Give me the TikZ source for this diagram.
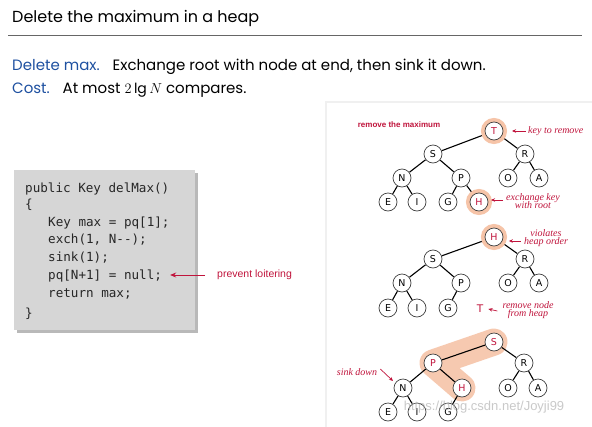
\documentclass[tikz,border=0pt]{standalone}
\usepackage{fontspec}
\setmainfont{Poppins}
\newfontfamily\codefont{DejaVu Sans Mono}
\newfontfamily\nodefont{DejaVu Sans}
\newfontfamily\arialfont{Liberation Sans}
\newfontfamily\serifit{Liberation Serif}
\usetikzlibrary{shadows,arrows.meta}
\pgfdeclarelayer{panel}
\pgfdeclarelayer{band}
\pgfdeclarelayer{edges}
\pgfsetlayers{panel,band,edges,main}
\definecolor{sbblue}{RGB}{30,80,160}
\definecolor{sbred}{RGB}{192,20,60}
\definecolor{halo}{RGB}{246,196,168}
\definecolor{boxgray}{RGB}{214,214,214}
\tikzset{
  hn/.style={circle, draw=black!75, fill=white, line width=0.7pt, minimum size=18pt, inner sep=0pt,
             font=\nodefont\fontsize{9.5}{10}\selectfont},
  hred/.style={hn, text=sbred},
  hhalo/.style={hred, preaction={draw=halo, line width=8pt}},
  edge/.style={line width=1.1pt, black},
  note/.style={font=\serifit\itshape\fontsize{10}{10}\selectfont, text=sbred, align=center, inner sep=0pt},
  redarrow/.style={-{Stealth[length=4pt,width=3.5pt]}, sbred, line width=0.7pt},
  codeline/.style={anchor=base west, inner sep=0pt, font=\codefont\fontsize{12.6}{14}\selectfont, text=black!85},
}
\begin{document}
\begin{tikzpicture}[x=1pt,y=-1pt]
\useasboundingbox (0,0) rectangle (592,426);
% header
\node[anchor=base west, inner sep=0pt, font=\fontsize{16}{19}\selectfont] (title) at (12,22) {Delete the maximum in a heap};
\draw[black!60, line width=0.8pt] (8,35) -- (582,35);
\node[anchor=base west, inner sep=0pt, font=\fontsize{15}{17}\selectfont] (l1) at (12,70)
  {\textcolor{sbblue}{Delete max.}\hspace{0.5em} Exchange root with node at end, then sink it down.};
\node[anchor=base west, inner sep=0pt, font=\fontsize{15}{17}\selectfont] (l2) at (12,93)
  {\textcolor{sbblue}{Cost.}\hspace{0.5em} At most {\fontsize{14}{15}\selectfont$2\lg N$} compares.};
% right panel
\begin{pgfonlayer}{panel}
\fill[black!6] (325,101) rectangle (600,430);
\fill[white] (327,103) rectangle (600,430);
\end{pgfonlayer}
% code box
\node[anchor=north west, fill=boxgray, minimum width=181pt, minimum height=160pt, inner sep=0pt,
      drop shadow={shadow xshift=3pt, shadow yshift=-3pt, opacity=0.55}] (box) at (14,170) {};
\node[codeline] (c1) at (25,192) {public Key delMax()};
\node[codeline] (c2) at (25,208) {\{};
\node[codeline] (c3) at (48,226) {Key max = pq[1];};
\node[codeline] (c4) at (48,243) {exch(1, N{-}{-});};
\node[codeline] (c5) at (48,261) {sink(1);};
\node[codeline] (c6) at (48,279) {pq[N+1] = null;};
\node[codeline] (c7) at (48,297) {return max;};
\node[codeline] (c8) at (25,317) {\}};
\node[anchor=west, inner sep=0pt, text=sbred, font=\arialfont\fontsize{10.5}{11}\selectfont] (pl) at (217,275) {prevent loitering};
\draw[-{Stealth[length=6pt,width=5pt]}, sbred, line width=0.9pt] ([xshift=-12pt]pl.west) -- ([xshift=8pt]c6.east |- pl.west);
% ---------- tree 1
\node[anchor=center, inner sep=0pt, text=sbred, font=\arialfont\bfseries\fontsize{8}{9}\selectfont] (rm) at (399,125) {remove the maximum};
\node[hhalo] (aT) at (494,131) {T};
\node[hn] (aS) at (433,154) {S};
\node[hn] (aR) at (525,154) {R};
\node[hn] (aN) at (402,178) {N};
\node[hn] (aP) at (461,178) {P};
\node[hn] (aO) at (508,178) {O};
\node[hn] (aA) at (539,178) {A};
\node[hn] (aE) at (388,202) {E};
\node[hn] (aI) at (417,202) {I};
\node[hn] (aG) at (448,202) {G};
\node[hhalo] (aH) at (479,202) {H};
\begin{pgfonlayer}{edges}
\draw[edge] (aT) -- (aS); \draw[edge] (aT) -- (aR);
\draw[edge] (aS) -- (aN); \draw[edge] (aS) -- (aP);
\draw[edge] (aR) -- (aO); \draw[edge] (aR) -- (aA);
\draw[edge] (aN) -- (aE); \draw[edge] (aN) -- (aI);
\draw[edge] (aP) -- (aG); \draw[edge] (aP) -- (aH);
\end{pgfonlayer}
\node[note, anchor=west] (k1) at (528,131) {key to remove};
\draw[redarrow] ([xshift=-2pt]k1.west) -- ([xshift=-16pt]k1.west);
\node[note] (k2) at (533,201) {exchange key\\[-1.5pt]with root};
\draw[redarrow] ([xshift=-3pt,yshift=1pt]k2.west) -- ([xshift=-15pt,yshift=1pt]k2.west);
% ---------- tree 2
\begin{scope}[shift={(0,106)}]
\node[hhalo] (bH) at (494,131) {H};
\node[hn] (bS) at (433,153) {S};
\node[hn] (bR) at (525,153) {R};
\node[hn] (bN) at (402,177) {N};
\node[hn] (bP) at (461,177) {P};
\node[hn] (bO) at (508,177) {O};
\node[hn] (bA) at (539,177) {A};
\node[hn] (bE) at (388,202) {E};
\node[hn] (bI) at (417,202) {I};
\node[hn] (bG) at (448,202) {G};
\node[inner sep=0pt, text=sbred, font=\nodefont\fontsize{10.5}{10}\selectfont] (bT) at (480,203) {T};
\node[note] (v1) at (546,132) {violates\\[-1.5pt]heap order};
\node[note] (v2) at (528,204) {remove node\\[-1.5pt]from heap};
\end{scope}
\begin{pgfonlayer}{edges}
\draw[edge] (bH) -- (bS); \draw[edge] (bH) -- (bR);
\draw[edge] (bS) -- (bN); \draw[edge] (bS) -- (bP);
\draw[edge] (bR) -- (bO); \draw[edge] (bR) -- (bA);
\draw[edge] (bN) -- (bE); \draw[edge] (bN) -- (bI);
\draw[edge] (bP) -- (bG);
\end{pgfonlayer}
\draw[redarrow] ([xshift=-3pt,yshift=-3pt]v1.west) -- ([xshift=-15pt,yshift=-3pt]v1.west);
\draw[redarrow] ([xshift=-5pt,yshift=-1pt]v2.west) -- ([xshift=5pt]bT.east);
% ---------- tree 3
\begin{scope}[shift={(0,211)}]
\node[hred] (cS) at (494,131) {S};
\node[hred] (cP) at (433,152) {P};
\node[hn] (cR) at (524,152) {R};
\node[hn] (cN) at (403,177) {N};
\node[hred] (cH) at (462,177) {H};
\node[hn] (cO) at (508,177) {O};
\node[hn] (cA) at (538,177) {A};
\node[hn] (cE) at (388,201) {E};
\node[hn] (cI) at (417,201) {I};
\node[hn] (cG) at (448,201) {G};
\node[note] (sd) at (357,161) {sink down};
\coordinate (sdend) at (393,170);
\end{scope}
\begin{pgfonlayer}{band}
\draw[halo, line width=27pt, line cap=round, line join=round, opacity=0.9] (cS.center) -- (cP.center) -- (cH.center);
\end{pgfonlayer}
\begin{pgfonlayer}{edges}
\draw[edge] (cS) -- (cP); \draw[edge] (cS) -- (cR);
\draw[edge] (cP) -- (cN); \draw[edge] (cP) -- (cH);
\draw[edge] (cR) -- (cO); \draw[edge] (cR) -- (cA);
\draw[edge] (cN) -- (cE); \draw[edge] (cN) -- (cI);
\draw[edge] (cH) -- (cG);
\end{pgfonlayer}
\draw[redarrow] ([xshift=3pt,yshift=3pt]sd.east) -- (sdend);
% watermark
\node[inner sep=0pt, text=black!35, opacity=0.6, font=\arialfont\fontsize{13}{14}\selectfont] (wm) at (484,407) {https://blog.csdn.net/Joyji99};
\end{tikzpicture}
\end{document}
